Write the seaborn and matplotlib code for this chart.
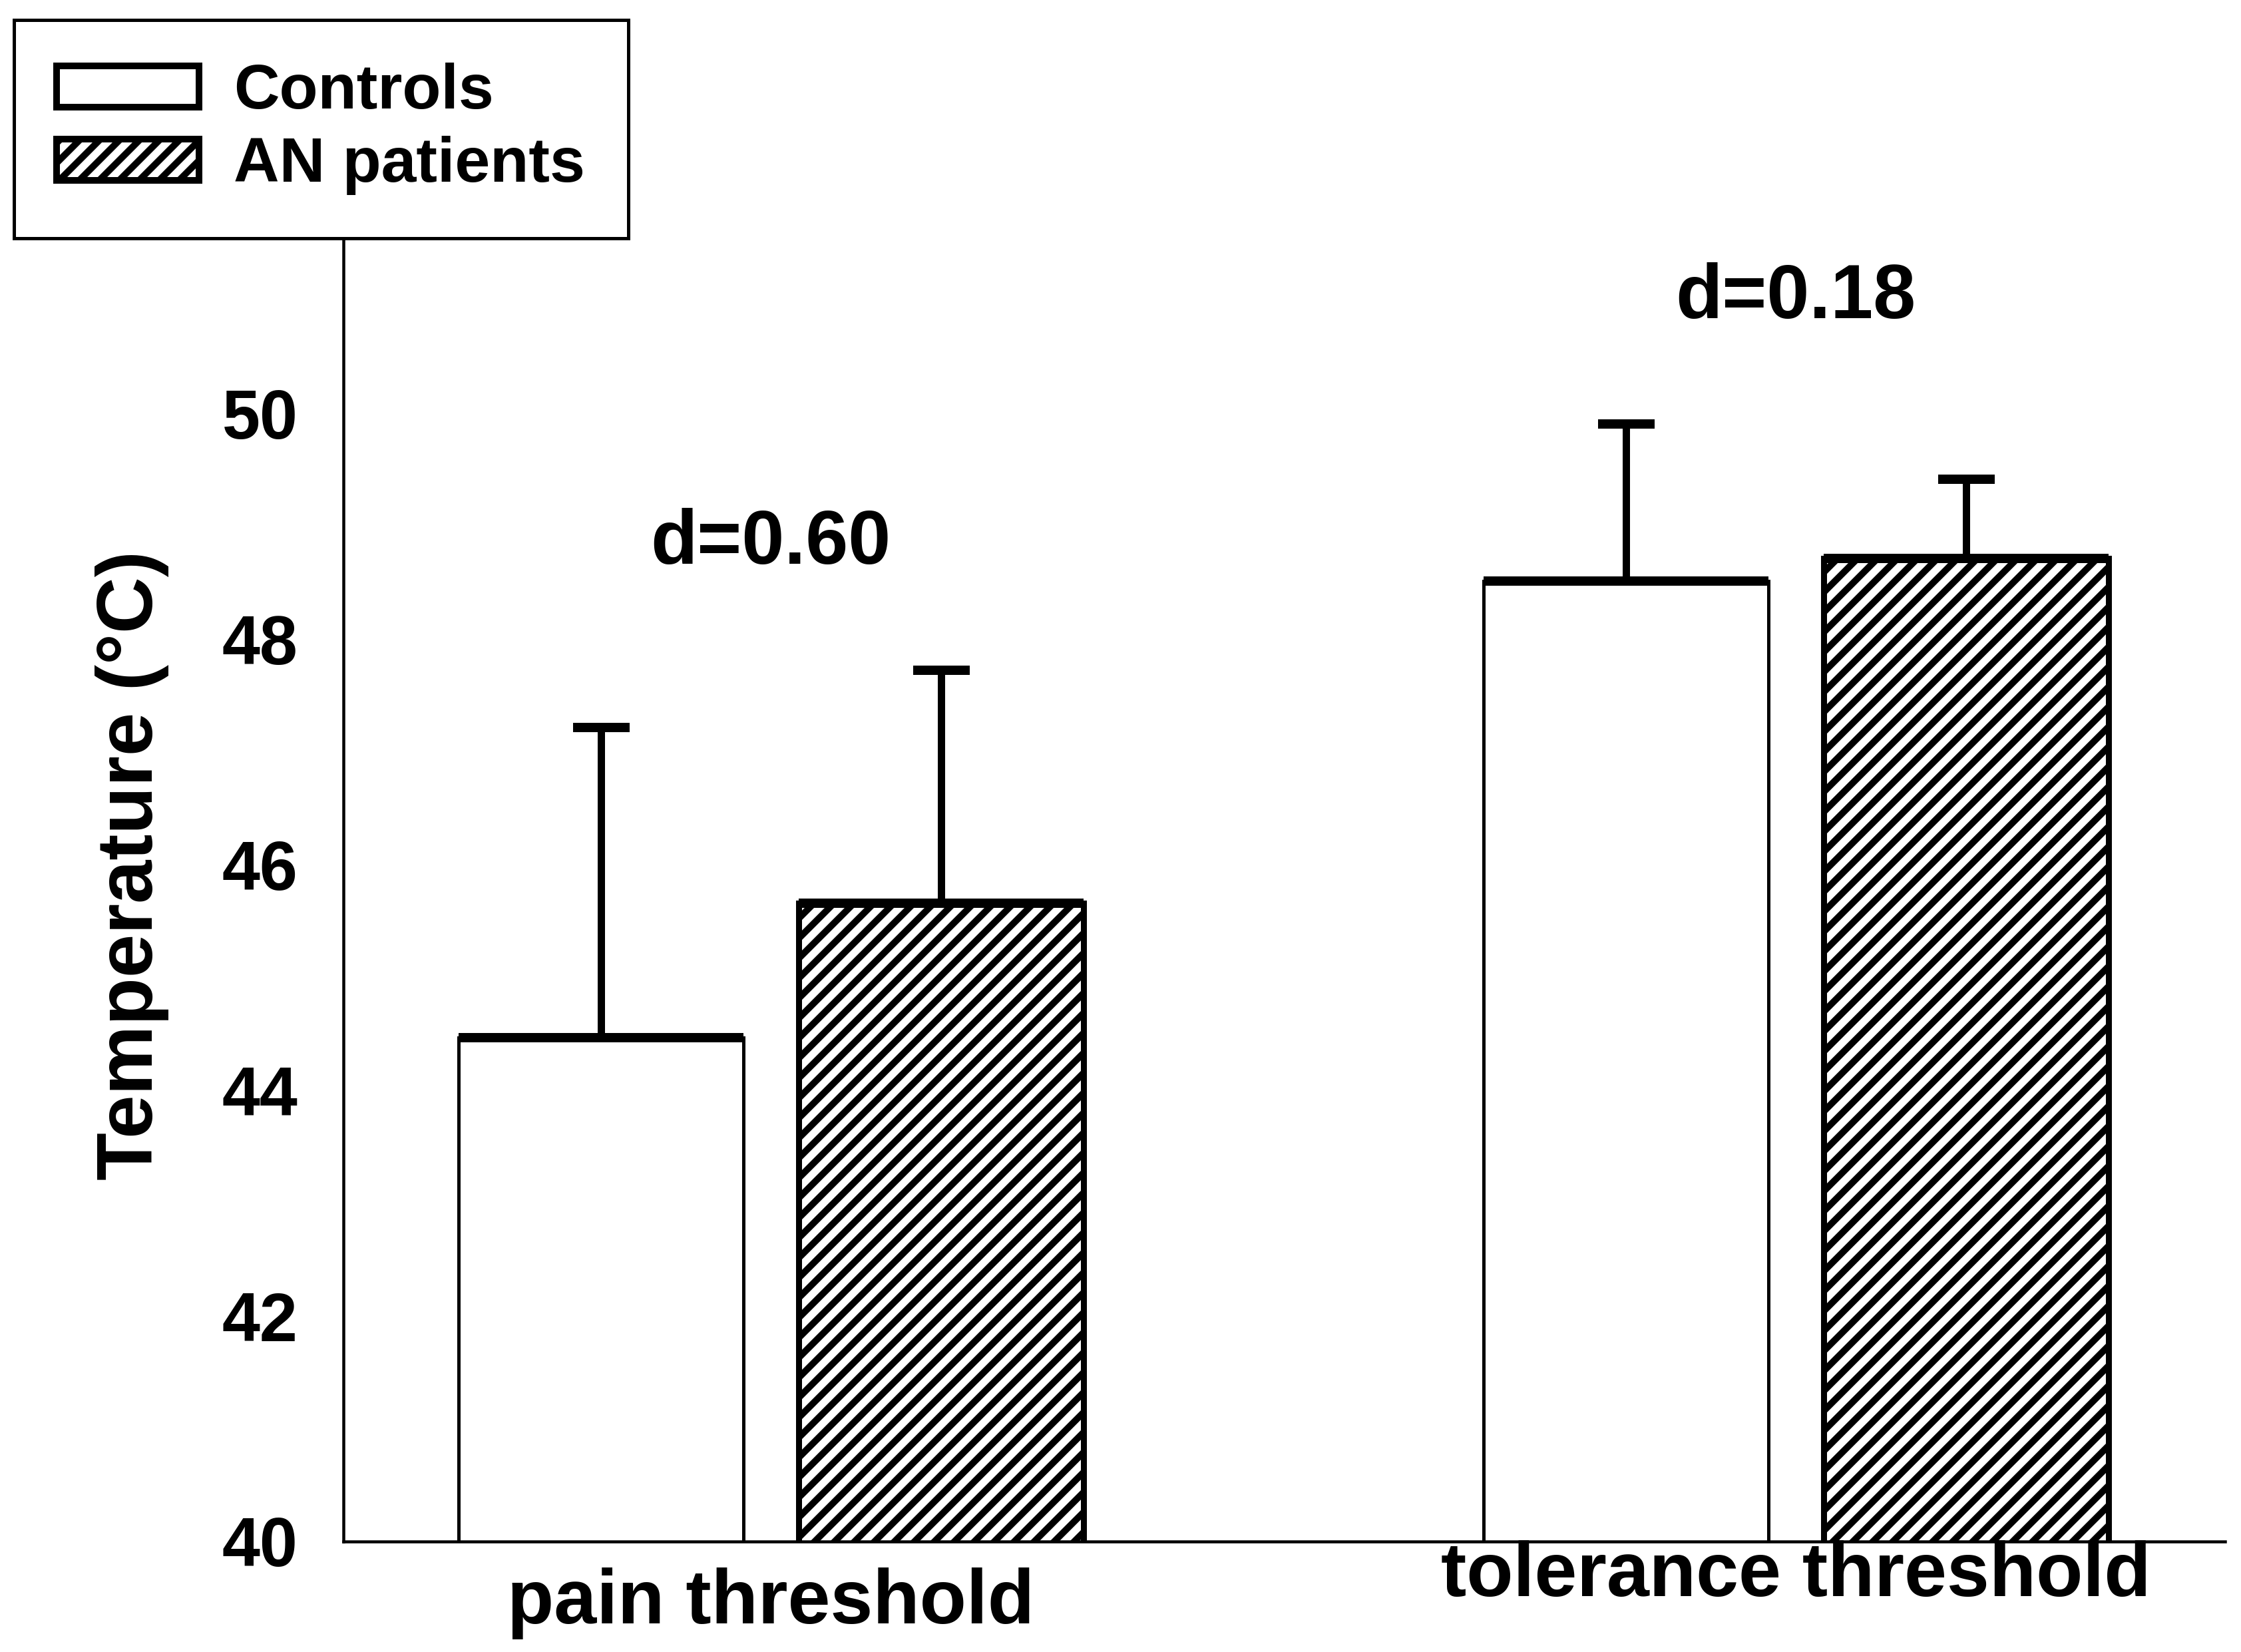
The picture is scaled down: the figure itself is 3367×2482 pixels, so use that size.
import pandas as pd
import matplotlib.pyplot as plt
import matplotlib.patches as mpatches
import seaborn as sns

# valeurs
categories = ["pain threshold", "tolerance threshold"]
groups = ["Controls", "AN patients"]
controls_mean = [44.47, 48.52]
controls_sd = [2.75, 1.39]
an_mean = [45.66, 48.72]
an_sd = [2.07, 0.70]
effect_sizes = ["d=0.60", "d=0.18"]
yticks = [40, 42, 44, 46, 48, 50]

df = pd.DataFrame({
    "threshold": categories * 2,
    "group": [groups[0]] * 2 + [groups[1]] * 2,
    "temperature": controls_mean + an_mean,
    "sd": controls_sd + an_sd,
})

sns.set_style("white")
plt.rcParams["font.family"] = ["Liberation Sans", "DejaVu Sans"]
plt.rcParams["font.weight"] = "bold"
plt.rcParams["text.color"] = "black"
plt.rcParams["axes.labelcolor"] = "black"
plt.rcParams["ytick.color"] = "black"
plt.rcParams["xtick.color"] = "black"
plt.rcParams["hatch.linewidth"] = 2.0
plt.rcParams["hatch.color"] = "black"

DPI = 360
fig = plt.figure(figsize=(3367 / DPI, 2482 / DPI), dpi=DPI)
ax = fig.add_axes([0.1533, 0.0669, 0.8397, 0.819])

sns.barplot(data=df, x="threshold", y="temperature", hue="group", hue_order=groups,
            palette=["white", "white"], edgecolor="black", width=0.664, gap=0.163,
            errorbar=None, legend=False, ax=ax)

hatches = ["", "////"]
edge_lw = [1.0, 1.8]
bar_containers = list(ax.containers)
for k, cont in enumerate(bar_containers):
    sub = df[df["group"] == groups[k]]
    xs, tops, lefts, rights = [], [], [], []
    for bar in cont:
        bar.set_hatch(hatches[k])
        bar.set_linewidth(edge_lw[k])
        bar.set_edgecolor("black")
        xs.append(bar.get_x() + bar.get_width() / 2)
        tops.append(bar.get_height())
        lefts.append(bar.get_x())
        rights.append(bar.get_x() + bar.get_width())
    # bord supérieur épais
    ax.hlines(tops, lefts, rights, color="black", linewidth=2.8, zorder=3)
    # barres d'erreur vers le haut seulement
    ax.errorbar(xs, tops, yerr=[[0] * len(xs), sub["sd"].tolist()], fmt="none",
                ecolor="black", elinewidth=2.2, capsize=8.5, capthick=2.8, zorder=4)

# tailles d'effet au-dessus de chaque groupe
tops_err = [max(c + cs, a + s) for c, cs, a, s in zip(controls_mean, controls_sd, an_mean, an_sd)]
for i, lab in enumerate(effect_sizes):
    ax.text(i, tops_err[i] + 1.12, lab, ha="center", va="center", fontsize=23, fontweight="bold")

ax.set_ylim(40, 52)
ax.set_xlim(-0.417, 1.419)
ax.set_yticks(yticks)
ax.set_yticklabels([str(t) for t in yticks], fontsize=20.5, fontweight="bold")
ax.tick_params(axis="y", direction="out", length=5.2, width=0.9, pad=8.5, color="black")
ax.tick_params(axis="x", length=0)
ax.set_xticklabels([])
ax.set_xlabel("")
ax.set_ylabel("Temperature (°C)", fontsize=23.5, fontweight="bold", labelpad=16)

# étiquettes des catégories (pas à la même hauteur dans l'original)
label_offsets = [-0.019, 0.001]
for i, cat in enumerate(categories):
    ax.text(i, label_offsets[i], cat, transform=ax.get_xaxis_transform(), ha="center",
            va="top", fontsize=23, fontweight="bold")

sns.despine(ax=ax)
for side in ["left", "bottom"]:
    ax.spines[side].set_color("black")
    ax.spines[side].set_linewidth(0.9)

handles = [mpatches.Patch(facecolor="white", edgecolor="black", linewidth=2.0, hatch=h, label=g)
           for g, h in zip(groups, hatches)]
leg = fig.legend(handles=handles, loc="upper left", bbox_to_anchor=(0.0062, 0.988),
                 bbox_transform=fig.transFigure, borderaxespad=0,
                 handlelength=2.25, handleheight=0.63, handletextpad=0.55, borderpad=0.68,
                 labelspacing=0.22, fancybox=False, framealpha=1, edgecolor="black",
                 prop={"weight": "bold", "size": 19})
leg.get_frame().set_linewidth(1.0)

fig.savefig("out.png", dpi=DPI)
